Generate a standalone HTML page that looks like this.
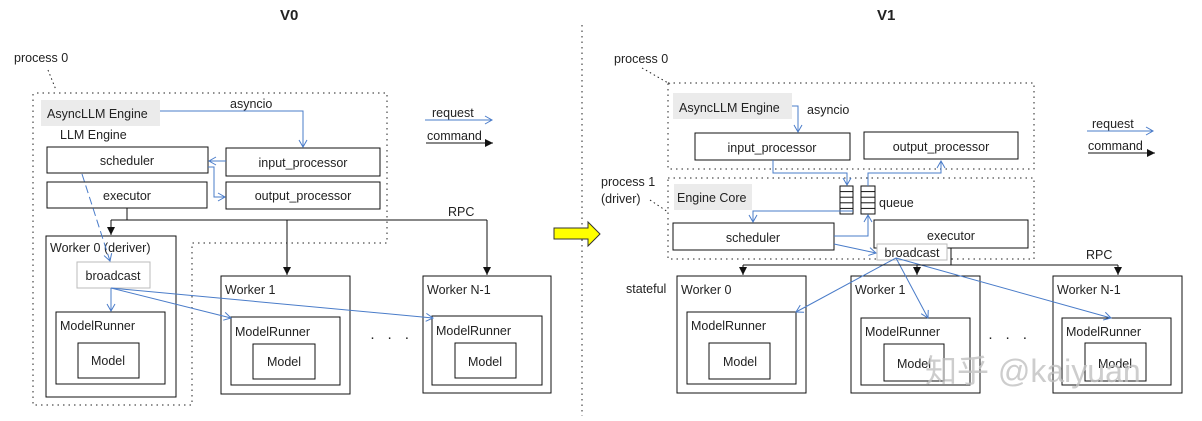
<!DOCTYPE html>
<html><head><meta charset="utf-8"><style>
html,body{margin:0;padding:0;background:#fff;}
svg{display:block;font-family:"Liberation Sans","Noto Sans CJK SC",sans-serif;}
text{font-size:12.5px;fill:#222;}
</style></head><body>
<svg width="1202" height="421" viewBox="0 0 1202 421" xmlns="http://www.w3.org/2000/svg">
<defs>
<marker id="bo" markerWidth="10" markerHeight="10" refX="8" refY="5" orient="auto" markerUnits="userSpaceOnUse"><path d="M1,1 L8,5 L1,9" fill="none" stroke="#4a7cc9" stroke-width="1"/></marker>
<marker id="bk" markerWidth="10" markerHeight="10" refX="8" refY="5" orient="auto" markerUnits="userSpaceOnUse"><path d="M0,1 L8,5 L0,9 Z" fill="#111"/></marker>
</defs>
<g fill="none" stroke-linecap="butt">
<line x1="582" y1="25" x2="582" y2="416" stroke="#222" stroke-dasharray="1.5,4"/>
<path d="M37,93 H387 V243 H192 V405 H33 V93" stroke="#222" stroke-dasharray="1.5,4"/>
<line x1="48" y1="70" x2="56" y2="90" stroke="#222" stroke-dasharray="1.5,3"/>
</g>
<text x="280" y="20" style="font-size:15px;font-weight:bold">V0</text>
<text x="877" y="20" style="font-size:15px;font-weight:bold">V1</text>
<text x="14" y="62">process 0</text>

<rect x="41" y="100" width="119" height="26" fill="#ebebeb"/>
<text x="47" y="118">AsyncLLM Engine</text>
<text x="60" y="139">LLM Engine</text>
<g fill="#fff" stroke="#111" stroke-width="1">
<rect x="47" y="147" width="161" height="26"/>
<rect x="47" y="182" width="160" height="26"/>
<rect x="226" y="148" width="154" height="28"/>
<rect x="226" y="182" width="154" height="27"/>
<rect x="46" y="236" width="130" height="161"/>
<rect x="56" y="312" width="109" height="72"/>
<rect x="78" y="343" width="61" height="35"/>
<rect x="221" y="276" width="129" height="118"/>
<rect x="231" y="317" width="109" height="68"/>
<rect x="253" y="344" width="62" height="35"/>
<rect x="423" y="276" width="128" height="117"/>
<rect x="432" y="316" width="110" height="69"/>
<rect x="455" y="343" width="61" height="35"/>
</g>
<rect x="77" y="262" width="73" height="26" fill="#fff" stroke="#bbb"/>
<text x="127" y="165" text-anchor="middle">scheduler</text>
<text x="127" y="200" text-anchor="middle">executor</text>
<text x="303" y="167" text-anchor="middle">input_processor</text>
<text x="303" y="200" text-anchor="middle">output_processor</text>
<text x="50" y="252">Worker 0  (deriver)</text>
<text x="113" y="280" text-anchor="middle">broadcast</text>
<text x="60" y="330">ModelRunner</text>
<text x="108" y="365" text-anchor="middle">Model</text>
<text x="225" y="294">Worker 1</text>
<text x="235" y="336">ModelRunner</text>
<text x="284" y="366" text-anchor="middle">Model</text>
<text x="427" y="294">Worker N-1</text>
<text x="436" y="335">ModelRunner</text>
<text x="485" y="366" text-anchor="middle">Model</text>
<text x="370" y="342" style="font-size:15px;letter-spacing:4px">· · ·</text>
<text x="230" y="108">asyncio</text>
<text x="448" y="216">RPC</text>
<text x="432" y="117">request</text>
<text x="427" y="140">command</text>

<g fill="none" stroke="#4a7cc9" stroke-width="1">
<path d="M160,111 H303 V147" marker-end="url(#bo)"/>
<path d="M226,161 H209" marker-end="url(#bo)"/>
<path d="M208,167 H214 V197 H225" marker-end="url(#bo)"/>
<path d="M82,174 L110,261" stroke-dasharray="8,4" marker-end="url(#bo)"/>
<path d="M111,288 V311" marker-end="url(#bo)"/>
<path d="M111,288 L231,318" marker-end="url(#bo)"/>
<path d="M111,288 L433,318" marker-end="url(#bo)"/>
<path d="M425,120 H492" marker-end="url(#bo)"/>
<path d="M1087,131 H1153" marker-end="url(#bo)"/>
</g>
<g fill="none" stroke="#111" stroke-width="1">
<path d="M127,208 V220"/>
<path d="M111,220 H487"/>
<path d="M111,220 V235" marker-end="url(#bk)"/>
<path d="M287,220 V275" marker-end="url(#bk)"/>
<path d="M487,220 V275" marker-end="url(#bk)"/>
<path d="M426,143 H493" marker-end="url(#bk)"/>
<path d="M1088,153 H1155" marker-end="url(#bk)"/>
</g>

<path d="M554,228 H588 V222 L600,234 L588,246 V239 H554 Z" fill="#ffff00" stroke="#333" stroke-width="1"/>

<g fill="none" stroke="#222" stroke-dasharray="1.5,4">
<rect x="668" y="83" width="366" height="86"/>
<rect x="668" y="178" width="366" height="81"/>
<line x1="642" y1="68" x2="670" y2="84" stroke-dasharray="1.5,3"/>
<line x1="650" y1="200" x2="668" y2="212" stroke-dasharray="1.5,3"/>
</g>
<text x="614" y="63">process 0</text>
<text x="601" y="186">process 1</text>
<text x="601" y="203">(driver)</text>
<rect x="673" y="93" width="119" height="26" fill="#ebebeb"/>
<text x="679" y="112">AsyncLLM Engine</text>
<text x="807" y="114">asyncio</text>
<rect x="674" y="184" width="78" height="26" fill="#ebebeb"/>
<text x="677" y="202">Engine Core</text>
<g fill="#fff" stroke="#111" stroke-width="1">
<rect x="695" y="133" width="155" height="27"/>
<rect x="864" y="132" width="154" height="27"/>
<rect x="673" y="223" width="161" height="27"/>
<rect x="874" y="220" width="154" height="28"/>
<rect x="677" y="276" width="129" height="117"/>
<rect x="687" y="312" width="109" height="72"/>
<rect x="709" y="343" width="61" height="36"/>
<rect x="851" y="276" width="129" height="117"/>
<rect x="861" y="318" width="109" height="67"/>
<rect x="884" y="344" width="60" height="37"/>
<rect x="1053" y="276" width="129" height="117"/>
<rect x="1062" y="318" width="109" height="67"/>
<rect x="1085" y="343" width="61" height="38"/>
<rect x="840" y="186" width="13" height="28"/>
<rect x="861" y="186" width="14" height="28"/>
</g>
<g stroke="#111" stroke-width="1">
<line x1="840" y1="191.6" x2="853" y2="191.6"/><line x1="840" y1="197.2" x2="853" y2="197.2"/><line x1="840" y1="202.8" x2="853" y2="202.8"/><line x1="840" y1="208.4" x2="853" y2="208.4"/>
<line x1="861" y1="191.6" x2="875" y2="191.6"/><line x1="861" y1="197.2" x2="875" y2="197.2"/><line x1="861" y1="202.8" x2="875" y2="202.8"/><line x1="861" y1="208.4" x2="875" y2="208.4"/>
</g>
<text x="879" y="207">queue</text>
<rect x="877" y="244" width="70" height="16" fill="#fff" stroke="#bbb"/>
<text x="912" y="257" text-anchor="middle">broadcast</text>
<text x="772" y="152" text-anchor="middle">input_processor</text>
<text x="941" y="151" text-anchor="middle">output_processor</text>
<text x="753" y="242" text-anchor="middle">scheduler</text>
<text x="951" y="240" text-anchor="middle">executor</text>
<text x="626" y="293">stateful</text>
<text x="681" y="294">Worker 0</text>
<text x="691" y="330">ModelRunner</text>
<text x="740" y="366" text-anchor="middle">Model</text>
<text x="855" y="294">Worker 1</text>
<text x="865" y="336">ModelRunner</text>
<text x="914" y="368" text-anchor="middle">Model</text>
<text x="1057" y="294">Worker N-1</text>
<text x="1066" y="336">ModelRunner</text>
<text x="1115" y="368" text-anchor="middle">Model</text>
<text x="988" y="342" style="font-size:15px;letter-spacing:4px">· · ·</text>
<text x="1086" y="259">RPC</text>
<text x="1092" y="128">request</text>
<text x="1088" y="150">command</text>

<g fill="none" stroke="#4a7cc9" stroke-width="1">
<path d="M792,106 H798 V132" marker-end="url(#bo)"/>
<path d="M773,160 V173 H847 V185" marker-end="url(#bo)"/>
<path d="M868,186 V173 H941 V161" marker-end="url(#bo)"/>
<path d="M853,211 H753 V222" marker-end="url(#bo)"/>
<path d="M834,236 H868 V215" marker-end="url(#bo)"/>
<path d="M834,244 L876,253" marker-end="url(#bo)"/>
<path d="M896,258 L796,312" marker-end="url(#bo)"/>
<path d="M896,258 L928,318" marker-end="url(#bo)"/>
<path d="M896,258 L1111,318" marker-end="url(#bo)"/>
</g>
<g fill="none" stroke="#111" stroke-width="1">
<path d="M951,248 V265"/>
<path d="M743,265 H1118"/>
<path d="M743,265 V275" marker-end="url(#bk)"/>
<path d="M917,265 V275" marker-end="url(#bk)"/>
<path d="M1118,265 V275" marker-end="url(#bk)"/>
</g>
<text x="925" y="382" style="font-size:32px;fill:#c0c0c0;fill-opacity:0.8">知乎 @kaiyuan</text>
</svg>
</body></html>
